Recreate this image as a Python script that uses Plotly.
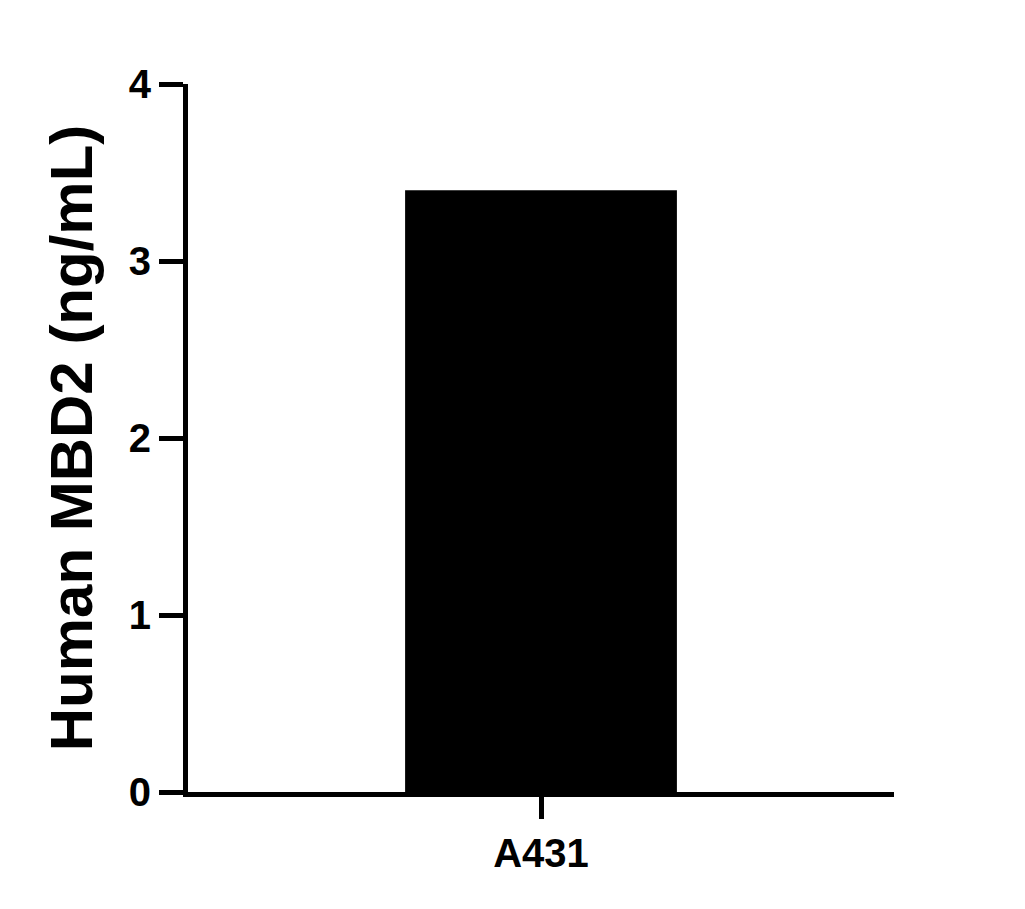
import plotly.graph_objects as go

categories = ["A431"]
values = [3.40]
y_ticks = [0, 1, 2, 3, 4]

fig = go.Figure()
fig.add_trace(go.Bar(x=categories, y=values, width=0.385,
                     marker=dict(color="black", line=dict(color="black", width=0))))

fnt = "Liberation Sans, Arial, sans-serif"
fig.update_layout(
    width=1025, height=909,
    margin=dict(l=180, r=139, t=76, b=125),
    plot_bgcolor="white", paper_bgcolor="white",
    showlegend=False,
    font=dict(family=fnt, color="black"),
)
fig.update_xaxes(
    range=[-0.5, 0.5], showline=True, linewidth=5, linecolor="black",
    ticks="outside", ticklen=22, tickwidth=5, tickcolor="black",
    tickfont=dict(size=40, family=fnt, weight="bold"), showgrid=False,
)
fig.update_yaxes(
    range=[0, 4], tickvals=y_ticks, showline=True, linewidth=5, linecolor="black",
    ticks="outside", ticklen=24, tickwidth=5, tickcolor="black",
    tickfont=dict(size=40, family=fnt, weight="bold"), showgrid=False, zeroline=False,
    title=dict(text="Human MBD2 (ng/mL)", font=dict(size=60, family=fnt, weight="bold"), standoff=18),
)

fig.write_html("out.html")
